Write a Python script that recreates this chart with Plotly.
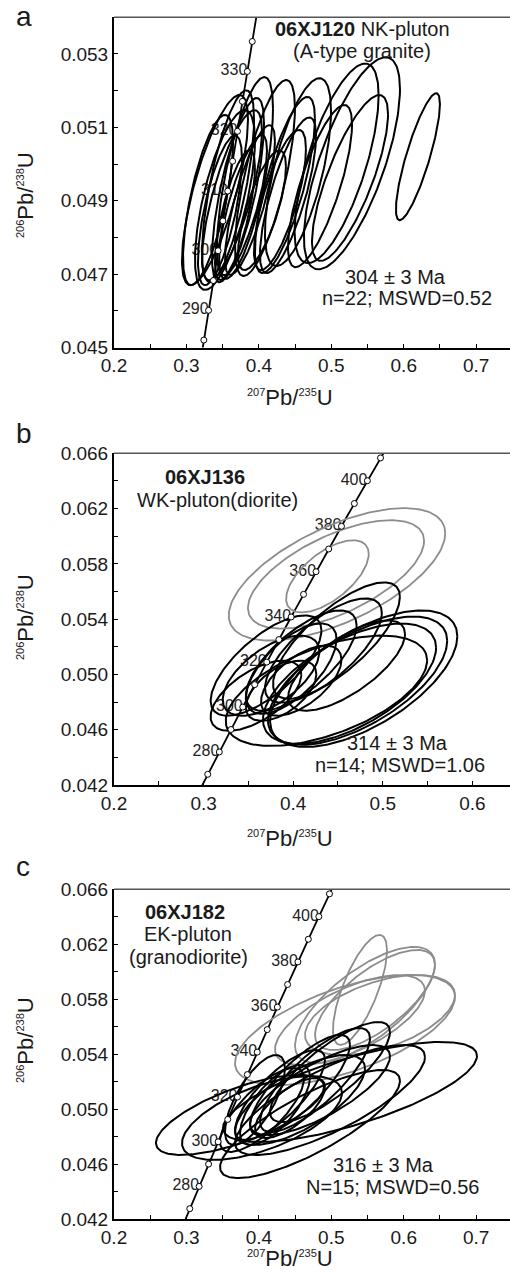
import numpy as np
import plotly.graph_objects as go

FONT = "Arial, 'Liberation Sans', sans-serif"
W, H = 510, 1275

# decay constants (per year)
L238 = 1.55125e-10
L235 = 9.8485e-10

# ---------------- Panel a : 06XJ120 ----------------
a_cx = [0.6196, 0.5285, 0.5073, 0.5258, 0.4540, 0.4844, 0.4402, 0.3808, 0.3574, 0.4084, 0.4360,
        0.3394, 0.3629, 0.3877, 0.3298, 0.3781, 0.3463, 0.3670, 0.4043, 0.4291, 0.3532, 0.3712]
a_cy = [0.05020, 0.05002, 0.05002, 0.04962, 0.04978, 0.04940, 0.04915, 0.04962, 0.04940, 0.04962, 0.04943,
        0.04929, 0.04915, 0.04902, 0.04902, 0.04888, 0.04874, 0.04861, 0.04874, 0.04902, 0.04902, 0.04929]
a_sx = [0.0304, 0.0663, 0.0580, 0.0525, 0.0456, 0.0442, 0.0387, 0.0387, 0.0359, 0.0414, 0.0414,
        0.0456, 0.0414, 0.0345, 0.0345, 0.0331, 0.0304, 0.0276, 0.0331, 0.0359, 0.0414, 0.0359]
a_sy = [0.00173, 0.00289, 0.00272, 0.00226, 0.00256, 0.00221, 0.00212, 0.00275, 0.00261, 0.00267, 0.00240,
        0.00259, 0.00232, 0.00204, 0.00232, 0.00191, 0.00204, 0.00177, 0.00163, 0.00191, 0.00245, 0.00251]
a_rho = [0.83, 0.70, 0.68, 0.77, 0.65, 0.76, 0.76, 0.69, 0.70, 0.71, 0.75,
         0.74, 0.75, 0.78, 0.68, 0.78, 0.68, 0.73, 0.73, 0.73, 0.66, 0.72]
a_marker_ages = [285, 290, 295, 300, 305, 310, 315, 320, 325, 330, 335]
a_label_ages = [290, 300, 310, 320, 330]
a_line_ages = [270, 345]

# ---------------- Panel b : 06XJ136 ----------------
b_gray_cx = [0.4489, 0.4478, 0.4382]
b_gray_cy = [0.05724, 0.05724, 0.05710]
b_gray_sx = [0.1208, 0.0983, 0.0461]
b_gray_sy = [0.00479, 0.00392, 0.00261]
b_gray_rho = [0.62, 0.62, 0.62]
b_cx = [0.4787, 0.4719, 0.4629, 0.4371, 0.4483, 0.4337, 0.4090, 0.4596, 0.3978, 0.3753, 0.3697, 0.4090, 0.3865, 0.3584]
b_cy = [0.04969, 0.04955, 0.04933, 0.04882, 0.05245, 0.05173, 0.05100, 0.05064, 0.05042, 0.04991, 0.05064, 0.04955, 0.04882, 0.04846]
b_sx = [0.1045, 0.1000, 0.0966, 0.1124, 0.0708, 0.0652, 0.0618, 0.0652, 0.0506, 0.0539, 0.0618, 0.0449, 0.0393, 0.0506]
b_sy = [0.00494, 0.00464, 0.00435, 0.00399, 0.00421, 0.00377, 0.00363, 0.00327, 0.00327, 0.00290, 0.00363, 0.00254, 0.00218, 0.00254]
b_rho = [0.62, 0.62, 0.60, 0.55, 0.75, 0.72, 0.70, 0.70, 0.65, 0.60, 0.70, 0.60, 0.55, 0.60]
b_marker_ages = [270, 280, 290, 300, 310, 320, 330, 340, 350, 360, 370, 380, 390, 400, 410]
b_label_ages = [280, 300, 320, 340, 360, 380, 400]
b_line_ages = [255, 430]

# ---------------- Panel c : 06XJ182 ----------------
c_gray_cx = [0.5396, 0.5189, 0.5465, 0.5603, 0.5258, 0.5672]
c_gray_cy = [0.05868, 0.05577, 0.05759, 0.05795, 0.05649, 0.05686]
c_gray_sx = [0.0373, 0.1519, 0.0966, 0.0828, 0.1035, 0.1035]
c_gray_sy = [0.00400, 0.00400, 0.00422, 0.00364, 0.00327, 0.00291]
c_gray_rho = [0.72, 0.60, 0.70, 0.70, 0.65, 0.50]
c_cx = [0.3739, 0.4043, 0.4706, 0.5258, 0.4982, 0.4982, 0.4775, 0.4568, 0.4292, 0.4223, 0.4043, 0.4430, 0.3946, 0.4844, 0.4568]
c_cy = [0.04959, 0.04937, 0.04893, 0.05126, 0.05068, 0.05271, 0.05213, 0.05177, 0.05104, 0.05031, 0.04995, 0.05009, 0.05068, 0.05140, 0.05068]
c_sx = [0.1160, 0.1104, 0.1242, 0.1753, 0.1311, 0.0828, 0.0759, 0.0690, 0.0621, 0.0483, 0.0580, 0.0483, 0.0414, 0.0966, 0.0897]
c_sy = [0.00291, 0.00305, 0.00393, 0.00364, 0.00400, 0.00364, 0.00378, 0.00364, 0.00327, 0.00291, 0.00305, 0.00218, 0.00327, 0.00327, 0.00327]
c_rho = [0.70, 0.60, 0.80, 0.72, 0.78, 0.80, 0.80, 0.80, 0.78, 0.70, 0.75, 0.70, 0.70, 0.75, 0.70]
c_marker_ages = b_marker_ages
c_label_ages = b_label_ages
c_line_ages = [255, 430]

# ticks
a_xticks = [0.2, 0.25, 0.3, 0.35, 0.4, 0.45, 0.5, 0.55, 0.6, 0.65, 0.7]
a_xlabels = ["0.2", "", "0.3", "", "0.4", "", "0.5", "", "0.6", "", "0.7"]
a_yticks = [0.045, 0.046, 0.047, 0.048, 0.049, 0.050, 0.051, 0.052, 0.053]
a_ylabels = ["0.045", "", "0.047", "", "0.049", "", "0.051", "", "0.053"]
b_xticks = [0.2, 0.25, 0.3, 0.35, 0.4, 0.45, 0.5, 0.55, 0.6]
b_xlabels = ["0.2", "", "0.3", "", "0.4", "", "0.5", "", "0.6"]
bc_yticks = [0.042, 0.044, 0.046, 0.048, 0.050, 0.052, 0.054, 0.056, 0.058, 0.060, 0.062, 0.064, 0.066]
bc_ylabels = ["0.042", "", "0.046", "", "0.050", "", "0.054", "", "0.058", "", "0.062", "", "0.066"]


def conc(ages):
    t = np.asarray(ages, dtype=float) * 1e6
    return np.exp(L235 * t) - 1, np.exp(L238 * t) - 1


def ellipses(cx, cy, sx, sy, rho, n=180):
    xs, ys = [], []
    t = np.linspace(0, 2 * np.pi, n)
    for x0, y0, a, b, r in zip(cx, cy, sx, sy, rho):
        xs += list(x0 + a * np.cos(t)) + [None]
        ys += list(y0 + b * (r * np.cos(t) + np.sqrt(1 - r * r) * np.sin(t))) + [None]
    return xs, ys


fig = go.Figure()


def py2p(py):
    return 1 - py / H


panels = [
    dict(xa="x", ya="y", black=(a_cx, a_cy, a_sx, a_sy, a_rho), gray=None,
         marks=a_marker_ages, labels=a_label_ages, line=a_line_ages),
    dict(xa="x2", ya="y2", black=(b_cx, b_cy, b_sx, b_sy, b_rho),
         gray=(b_gray_cx, b_gray_cy, b_gray_sx, b_gray_sy, b_gray_rho),
         marks=b_marker_ages, labels=b_label_ages, line=b_line_ages),
    dict(xa="x3", ya="y3", black=(c_cx, c_cy, c_sx, c_sy, c_rho),
         gray=(c_gray_cx, c_gray_cy, c_gray_sx, c_gray_sy, c_gray_rho),
         marks=c_marker_ages, labels=c_label_ages, line=c_line_ages),
]

for p in panels:
    la = np.linspace(p["line"][0], p["line"][1], 200)
    lx, ly = conc(la)
    fig.add_trace(go.Scatter(x=lx, y=ly, mode="lines", line=dict(color="black", width=1.8),
                             xaxis=p["xa"], yaxis=p["ya"], hoverinfo="skip", showlegend=False))
    tx, ty = conc(p["labels"])
    fig.add_trace(go.Scatter(x=tx, y=ty, mode="text", text=[str(v) for v in p["labels"]],
                             textposition="middle left",
                             textfont=dict(family=FONT, size=16, color="#222"),
                             xaxis=p["xa"], yaxis=p["ya"], hoverinfo="skip", showlegend=False))
    if p["gray"] is not None:
        gx, gy = ellipses(*p["gray"])
        fig.add_trace(go.Scatter(x=gx, y=gy, mode="lines", line=dict(color="#8c8c8c", width=1.8),
                                 xaxis=p["xa"], yaxis=p["ya"], hoverinfo="skip", showlegend=False))
    ex, ey = ellipses(*p["black"])
    fig.add_trace(go.Scatter(x=ex, y=ey, mode="lines", line=dict(color="black", width=2.0),
                             xaxis=p["xa"], yaxis=p["ya"], hoverinfo="skip", showlegend=False))
    mx, my = conc(p["marks"])
    fig.add_trace(go.Scatter(x=mx, y=my, mode="markers",
                             marker=dict(size=6, color="white", line=dict(color="black", width=1)),
                             xaxis=p["xa"], yaxis=p["ya"], hoverinfo="skip", showlegend=False))

xdom = [114 / W, 1.0]
axis_common = dict(showgrid=False, zeroline=False, showline=True, linecolor="black", linewidth=2,
                   ticks="inside", ticklen=4, tickwidth=1.2, tickcolor="black", tickmode="array",
                   tickfont=dict(family=FONT, size=19, color="#1a1a1a"), mirror=False,
                   automargin=False)

fig.update_layout(
    width=W, height=H, autosize=False,
    margin=dict(l=0, r=0, t=0, b=0, pad=0, autoexpand=False),
    paper_bgcolor="white", plot_bgcolor="white", showlegend=False,
    xaxis=dict(domain=xdom, range=[0.2, 0.7467], anchor="y", tickvals=a_xticks, ticktext=a_xlabels, **axis_common),
    yaxis=dict(domain=[py2p(347.5), py2p(17.3)], range=[0.045, 0.054], anchor="x",
               tickvals=a_yticks, ticktext=a_ylabels, **axis_common),
    xaxis2=dict(domain=xdom, range=[0.2, 0.642], anchor="y2", tickvals=b_xticks, ticktext=b_xlabels, **axis_common),
    yaxis2=dict(domain=[py2p(785), py2p(453.3)], range=[0.042, 0.066], anchor="x2",
                tickvals=bc_yticks, ticktext=bc_ylabels, **axis_common),
    xaxis3=dict(domain=xdom, range=[0.2, 0.7467], anchor="y3", tickvals=a_xticks, ticktext=a_xlabels, **axis_common),
    yaxis3=dict(domain=[py2p(1219.3), py2p(889.3)], range=[0.042, 0.066], anchor="x3",
                tickvals=bc_yticks, ticktext=bc_ylabels, **axis_common),
)

# top borders
for ya in ["y", "y2", "y3"]:
    xa = "x" + ya[1:]
    fig.add_shape(type="line", xref=xa + " domain", yref=ya + " domain", x0=0, x1=1, y0=1, y1=1,
                  line=dict(color="#555", width=1.5))

SUP = lambda s: '<sup><span style="font-size:11px">%s</span></sup>' % s
ytitle = SUP("206") + "Pb/" + SUP("238") + "U"
xtitle = SUP("207") + "Pb/" + SUP("235") + "U"


def ann(text, px, py, size=20, angle=0, xanchor="center"):
    fig.add_annotation(text=text, x=px / W, y=py2p(py), xref="paper", yref="paper",
                       showarrow=False, textangle=angle, xanchor=xanchor, yanchor="middle",
                       font=dict(family=FONT, size=size, color="#1a1a1a"))


# axis titles
for yc, xt in [(195, 397), (617, 838), (1040, 1258)]:
    ann(ytitle, 25, yc, size=22, angle=-90)
    ann(xtitle, 290, xt, size=22)

# panel letters
ann("a", 24, 17, size=28)
ann("b", 24, 434, size=28)
ann("c", 23, 866, size=28)

# panel texts
ann("<b>06XJ120</b> NK-pluton", 362, 29, size=20)
ann("(A-type granite)", 362, 51, size=20)
ann("304 ± 3 Ma", 395, 277, size=20)
ann("n=22; MSWD=0.52", 407, 298, size=20)

ann("<b>06XJ136</b>", 205, 477, size=20)
ann("WK-pluton(diorite)", 217, 500, size=20)
ann("314 ± 3 Ma", 397, 743, size=20)
ann("n=14; MSWD=1.06", 400, 765, size=20)

ann("<b>06XJ182</b>", 185, 912, size=20)
ann("EK-pluton", 188, 934, size=20)
ann("(granodiorite)", 188, 957, size=20)
ann("316 ± 3 Ma", 383, 1165, size=20)
ann("N=15; MSWD=0.56", 392, 1187, size=20)

fig.write_html("out.html", config={"displayModeBar": False},
               post_script="document.body.style.margin='0';document.body.style.padding='0';")
